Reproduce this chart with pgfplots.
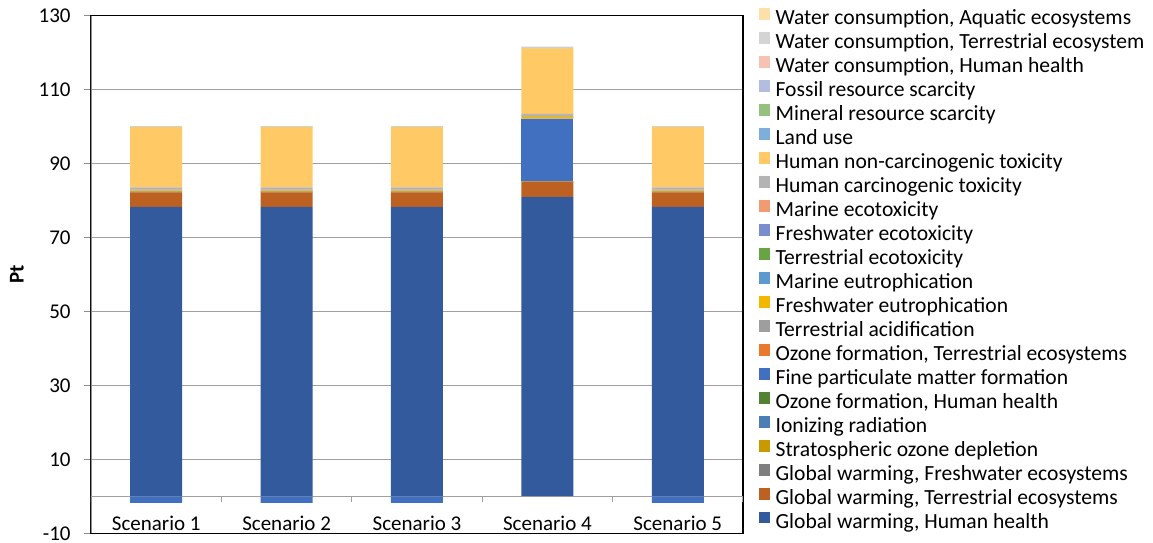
\documentclass[border=0pt]{standalone}
\usepackage{fontspec}
\setmainfont{Carlito}
\usepackage{pgfplots}
\pgfplotsset{compat=1.18}
\usepackage{pgfplotstable}

\definecolor{c1}{HTML}{325A9C}
\definecolor{c2}{HTML}{BC6122}
\definecolor{c3}{HTML}{7F7F7F}
\definecolor{c4}{HTML}{C99A00}
\definecolor{c5}{HTML}{4A7EB4}
\definecolor{c6}{HTML}{548235}
\definecolor{c7}{HTML}{4270C0}
\definecolor{c8}{HTML}{E8792F}
\definecolor{c9}{HTML}{9E9E9E}
\definecolor{c10}{HTML}{F2B800}
\definecolor{c11}{HTML}{5B99CF}
\definecolor{c12}{HTML}{68A443}
\definecolor{c13}{HTML}{7A8ECD}
\definecolor{c14}{HTML}{F19B73}
\definecolor{c15}{HTML}{B4B4B4}
\definecolor{c16}{HTML}{FFC966}
\definecolor{c17}{HTML}{7DAEDC}
\definecolor{c18}{HTML}{96C07E}
\definecolor{c19}{HTML}{B3BDE0}
\definecolor{c20}{HTML}{F6C2B4}
\definecolor{c21}{HTML}{D4D4D4}
\definecolor{c22}{HTML}{FFDFA8}
\definecolor{gridc}{HTML}{A0A0A0}
\definecolor{axc}{HTML}{8C8C8C}

\pgfplotsset{sq/.style={fill=#1, draw=none,
  legend image code/.code={\fill[##1] (0pt,0.2pt) rectangle (5.6pt,5.8pt);}}}

% x: 0..4 = Scenario 1..5
\pgfplotstableread{
x GWHH GWTE GWFW SOD IR OFHH FPM OFTE TA FWE ME TEC FEC MEC HCT HNC LU MRS FRS WCHH WCTE WCAQ FPMneg
0 78.3 3.9 0.02 0.05 0.05 0.05 0 0.05 0.05 0.3 0.02 0.05 0.05 0.05 0.6 16.3 0.05 0.02 0.1 0.02 0.05 0.02 -1.8
1 78.3 3.9 0.02 0.05 0.05 0.05 0 0.05 0.05 0.3 0.02 0.05 0.05 0.05 0.6 16.3 0.05 0.02 0.1 0.02 0.05 0.02 -1.8
2 78.3 3.9 0.02 0.05 0.05 0.05 0 0.05 0.05 0.3 0.02 0.05 0.05 0.05 0.6 16.3 0.05 0.02 0.1 0.02 0.05 0.02 -1.8
3 81.0 4.1 0.02 0.05 0.05 0.05 16.8 0.05 0.05 0.5 0.02 0.05 0.05 0.05 0.6 17.7 0.05 0.02 0.1 0.02 0.3 0.02 0
4 78.3 3.9 0.02 0.05 0.05 0.05 0 0.05 0.05 0.3 0.02 0.05 0.05 0.05 0.6 16.3 0.05 0.02 0.1 0.02 0.05 0.02 -1.8
}\datatable

\begin{document}
\fontsize{10.5pt}{12.6pt}\selectfont
\begin{tikzpicture}
\begin{axis}[
  at={(45.5pt,4.35pt)}, anchor=south west,
  scale only axis, width=326pt, height=258.8pt,
  ybar stacked, bar width=26pt,
  xmin=-0.5, xmax=4.5, ymin=-10, ymax=130,
  ytick={-10,10,...,130},
  xtick={0,1,2,3,4},
  xticklabels={Scenario 1,Scenario 2,Scenario 3,Scenario 4,Scenario 5},
  tick align=outside, major tick length=3.5pt,
  ytick pos=left, xtick pos=bottom,
  xtick style={draw=none},
  ytick style={axc, line width=0.5pt},
  ymajorgrids, major grid style={gridc, line width=0.5pt},
  axis line style={black, line width=0.7pt},
  /pgf/number format/assume math mode=true,
  tick label style={font=\fontsize{10.5pt}{12pt}\selectfont},
  yticklabel style={anchor=east, inner sep=0pt, xshift=-6.5pt},
  xticklabel style={anchor=base, inner sep=0pt, yshift=4.8pt},
  ylabel={\textbf{Pt}},
  ylabel style={at={(axis description cs:-0.1135,0.5)}, anchor=center, rotate=0, font=\fontsize{10.5pt}{12pt}\selectfont},
  reverse legend,
  legend cell align=left,
  legend style={at={(axis description cs:1,1)}, anchor=north west, xshift=8pt, yshift=3.7pt,
    draw=none, fill=none, inner sep=0pt, outer sep=0pt, row sep=1.7pt, column sep=2.7pt,
    font=\fontsize{10.8pt}{12pt}\selectfont,
    nodes={inner sep=0pt, text height=7pt, text depth=2pt}},
]
\draw[gridc, line width=0.5pt] (axis cs:-0.5,0) -- (axis cs:4.5,0);
\pgfplotsinvokeforeach{-0.5,0.5,1.5,2.5,3.5,4.5}{
  \draw[gridc, line width=0.5pt] (axis cs:#1,0) -- ++(0pt,-3pt);
}
\addplot[sq=c1] table[x=x,y=GWHH]{\datatable}; \addlegendentry{Global warming, Human health}
\addplot[sq=c2] table[x=x,y=GWTE]{\datatable}; \addlegendentry{Global warming, Terrestrial ecosystems}
\addplot[sq=c3] table[x=x,y=GWFW]{\datatable}; \addlegendentry{Global warming, Freshwater ecosystems}
\addplot[sq=c4] table[x=x,y=SOD]{\datatable}; \addlegendentry{Stratospheric ozone depletion}
\addplot[sq=c5] table[x=x,y=IR]{\datatable}; \addlegendentry{Ionizing radiation}
\addplot[sq=c6] table[x=x,y=OFHH]{\datatable}; \addlegendentry{Ozone formation, Human health}
\addplot[sq=c7] table[x=x,y=FPM]{\datatable}; \addlegendentry{Fine particulate matter formation}
\addplot[sq=c8] table[x=x,y=OFTE]{\datatable}; \addlegendentry{Ozone formation, Terrestrial ecosystems}
\addplot[sq=c9] table[x=x,y=TA]{\datatable}; \addlegendentry{Terrestrial acidification}
\addplot[sq=c10] table[x=x,y=FWE]{\datatable}; \addlegendentry{Freshwater eutrophication}
\addplot[sq=c11] table[x=x,y=ME]{\datatable}; \addlegendentry{Marine eutrophication}
\addplot[sq=c12] table[x=x,y=TEC]{\datatable}; \addlegendentry{Terrestrial ecotoxicity}
\addplot[sq=c13] table[x=x,y=FEC]{\datatable}; \addlegendentry{Freshwater ecotoxicity}
\addplot[sq=c14] table[x=x,y=MEC]{\datatable}; \addlegendentry{Marine ecotoxicity}
\addplot[sq=c15] table[x=x,y=HCT]{\datatable}; \addlegendentry{Human carcinogenic toxicity}
\addplot[sq=c16] table[x=x,y=HNC]{\datatable}; \addlegendentry{Human non-carcinogenic toxicity}
\addplot[sq=c17] table[x=x,y=LU]{\datatable}; \addlegendentry{Land use}
\addplot[sq=c18] table[x=x,y=MRS]{\datatable}; \addlegendentry{Mineral resource scarcity}
\addplot[sq=c19] table[x=x,y=FRS]{\datatable}; \addlegendentry{Fossil resource scarcity}
\addplot[sq=c20] table[x=x,y=WCHH]{\datatable}; \addlegendentry{Water consumption, Human health}
\addplot[sq=c21] table[x=x,y=WCTE]{\datatable}; \addlegendentry{Water consumption, Terrestrial ecosystem}
\addplot[sq=c22] table[x=x,y=WCAQ]{\datatable}; \addlegendentry{Water consumption, Aquatic ecosystems}
\draw[axc, line width=0.6pt] (axis cs:-0.5,-10) -- (axis cs:-0.5,130);
\end{axis}
\begin{axis}[
  at={(45.5pt,4.35pt)}, anchor=south west,
  scale only axis, width=326pt, height=258.8pt,
  xmin=-0.5, xmax=4.5, ymin=-10, ymax=130,
  hide axis, ybar, bar width=26pt, bar shift=0pt,
]
\addplot[fill=c7, draw=none] table[x=x,y=FPMneg]{\datatable};
\end{axis}
\pgfresetboundingbox
\path (0,0) rectangle (576.5pt,271pt);
\end{tikzpicture}
\end{document}
